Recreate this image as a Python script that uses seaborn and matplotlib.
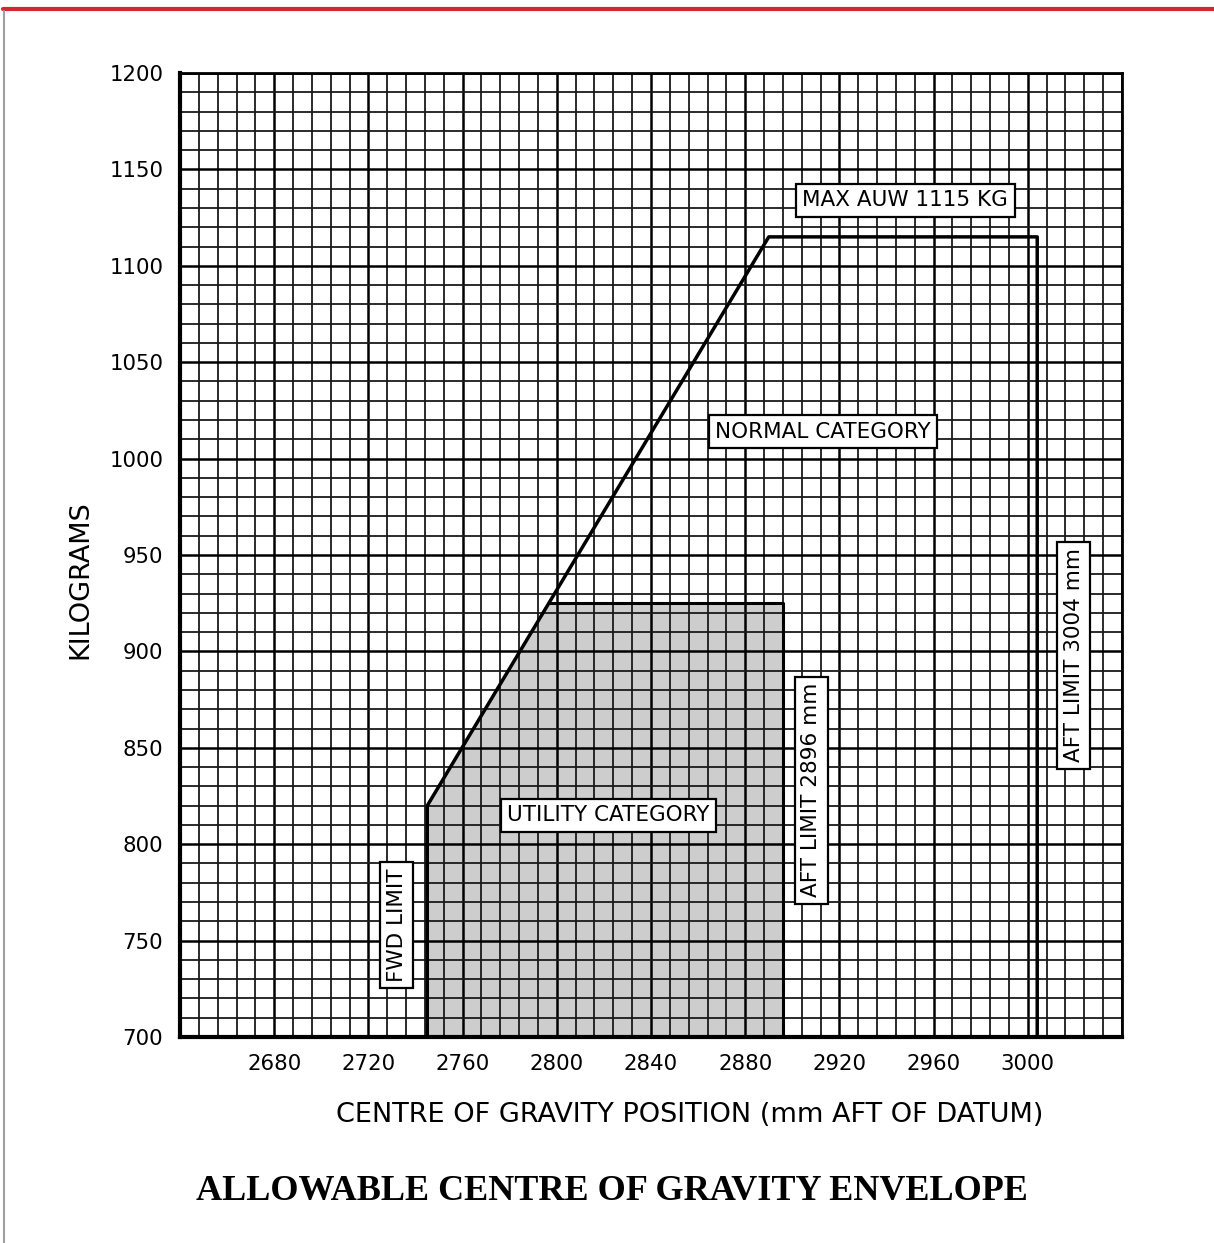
import matplotlib
matplotlib.use("Agg")
import matplotlib.pyplot as plt
import numpy as np
import pandas as pd
import seaborn as sns
from matplotlib.lines import Line2D

# envelope outline (cg mm aft of datum, weight kg)
envelope_cg = [2745, 2745, 2890, 3004, 3004]
envelope_kg = [700, 820, 1115, 1115, 700]

# utility category area
utility_cg = [2745, 2745, 2797, 2896, 2896]
utility_kg = [700, 820, 925, 925, 700]

x_ticks = [2680, 2720, 2760, 2800, 2840, 2880, 2920, 2960, 3000]
y_ticks = [700, 750, 800, 850, 900, 950, 1000, 1050, 1100, 1150, 1200]

# boxed labels: text, cg, kg, rotation
box_labels = [
    ("MAX AUW 1115 KG", 2948, 1134, 0),
    ("NORMAL CATEGORY", 2913, 1014, 0),
    ("UTILITY CATEGORY", 2822, 815, 0),
    ("FWD LIMIT", 2732, 758, 90),
    ("AFT LIMIT 2896 mm", 2908, 828, 90),
    ("AFT LIMIT 3004 mm", 3019.5, 898, 90),
]

sns.set_style("white")
plt.rcParams['font.family'] = ['DejaVu Sans']
plt.rcParams['text.color'] = 'black'

fig = plt.figure(figsize=(12.14, 12.43), dpi=100)
ax = fig.add_axes([180 / 1214, 1 - 1037 / 1243, (1122 - 180) / 1214, (1037 - 73) / 1243])

ax.set_xlim(2640, 3040)
ax.set_ylim(700, 1200)
ax.set_xticks(x_ticks)
ax.set_yticks(y_ticks)
ax.set_xticks(np.arange(2640, 3041, 8), minor=True)
ax.set_yticks(np.arange(700, 1201, 10), minor=True)
ax.grid(which='minor', color='#1a1a1a', linewidth=1.3)
ax.grid(which='major', color='black', linewidth=1.8)
ax.set_axisbelow(True)
ax.tick_params(which='minor', length=0)
ax.tick_params(which='major', direction='out', length=8, width=1.8, color='black',
               labelcolor='black', labelsize=15.3, pad=4)
for sp in ax.spines.values():
    sp.set_color('black')
    sp.set_linewidth(2)
ax.spines['left'].set_linewidth(3)
ax.spines['bottom'].set_linewidth(3)

# utility category shading (under the grid)
util = pd.DataFrame({"cg": utility_cg, "kg": utility_kg})
ax.fill(util.cg, util.kg, color='#cdcdcd', zorder=0.2, lw=0)
sns.lineplot(data=util.iloc[2:], x="cg", y="kg", sort=False, estimator=None,
             color='black', lw=2.2, ax=ax, zorder=3)

env = pd.DataFrame({"cg": envelope_cg, "kg": envelope_kg})
sns.lineplot(data=env, x="cg", y="kg", sort=False, estimator=None, color='black',
             lw=2.5, ax=ax, zorder=3)

for txt, cx, cy, rot in box_labels:
    ax.text(cx, cy, txt, rotation=rot, ha='center', va='center', fontsize=15.5,
            color='black', zorder=5,
            bbox=dict(boxstyle='square,pad=0.3', fc='white', ec='black', lw=1.6))

ax.set_xlabel("")
ax.set_ylabel("")
fig.text(690 / 1214, 1 - 1115 / 1243, "CENTRE OF GRAVITY POSITION (mm AFT OF DATUM)",
         ha='center', va='center', fontsize=19.5)
fig.text(80 / 1214, 1 - 580 / 1243, "KILOGRAMS", rotation=90,
         ha='center', va='center', fontsize=19.5)
fig.text(612 / 1214, 1 - 1192 / 1243, "ALLOWABLE CENTRE OF GRAVITY ENVELOPE",
         ha='center', va='center', fontsize=26, fontweight='bold',
         family='Liberation Serif')

# page decoration
fig.add_artist(Line2D([3 / 1214, 1], [1 - 9 / 1243] * 2, color='#d7262e', lw=3,
                      transform=fig.transFigure))
fig.add_artist(Line2D([4 / 1214] * 2, [0, 1 - 11 / 1243], color='#a0a0a0', lw=1.5,
                      transform=fig.transFigure))

fig.savefig("out.png", dpi=100)
